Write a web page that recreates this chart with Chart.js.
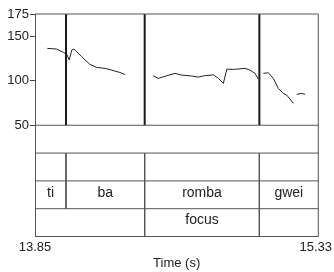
<!DOCTYPE html>
<html>
<head>
<meta charset="utf-8">
<script src="https://cdn.jsdelivr.net/npm/chart.js@4/dist/chart.umd.min.js"></script>
<style>
  html, body { margin: 0; padding: 0; background: #fff; }
  #wrap { width: 334px; height: 272px; }
</style>
</head>
<body>
<div id="wrap"><canvas id="c" width="334" height="272"></canvas></div>
<script>
// time axis (s) and pitch axis (Hz)
var timeRange = [13.85, 15.33];
var pitchTicks = [175, 150, 100, 50];

// pitch track, [time, Hz], one array per voiced stretch
var seg1 = [[13.914,136.4],[13.963,135.6],[13.998,131.9],[14.016,129.7],[14.029,123.3],[14.042,134.5],[14.054,135.6],
  [14.094,127],[14.137,118.4],[14.172,115],[14.216,113.9],[14.251,111.9],[14.294,109.3],[14.320,107.1]];
var seg2 = [[14.468,105.6],[14.494,102.7],[14.538,105.6],[14.581,108.3],[14.616,106.4],[14.669,105.3],[14.703,104.1],
  [14.735,105.6],[14.782,106.6],[14.808,102.7],[14.834,97],[14.852,113.1],[14.886,112.7],[14.947,113.9],[14.973,112],
  [14.999,108.3],[15.017,101.9]];
var seg3 = [[15.043,108.3],[15.069,109],[15.095,102.7],[15.121,91.4],[15.147,85.8],[15.165,83.9],[15.200,74.6]];
var seg4 = [[15.217,84.7],[15.243,85.8],[15.261,84.7]];

// textgrid: interval boundaries and labels per tier (tier 1 is empty)
var wordEdges = [13.85, 14.012, 14.423, 15.022, 15.33];
var wordLabels = ['ti', 'ba', 'romba', 'gwei'];
var focusEdges = [14.423, 15.022];
var focusLabel = 'focus';
var tier2Bounds = [14.012, 14.423, 15.022];

// tiers sit below the pitch panel on the same value scale
var tierEdges = [50, 18.75, -12.5, -43.75, -75];

var FONT = '"Liberation Sans", Arial, sans-serif';

var line = function(pts, color, width){
  return {
    data: pts.map(function(p){ return { x: p[0], y: p[1] }; }),
    borderColor: color, borderWidth: width, pointRadius: 0,
    tension: 0, fill: false, clip: 4, spanGaps: false
  };
};

var datasets = [];

// frame + tier lines
tierEdges.concat([175]).forEach(function(v){
  datasets.push(line([[timeRange[0], v], [timeRange[1], v]], '#555', 1));
});
datasets.push(line([[timeRange[1], -75], [timeRange[1], 175]], '#555', 1));

// boundaries through the pitch panel
wordEdges.slice(1, -1).forEach(function(b){
  datasets.push(line([[b, 50], [b, 175]], '#1a1a1a', 2));
});
// boundaries in tier 2 and 3
tier2Bounds.forEach(function(b){
  datasets.push(line([[b, tierEdges[1]], [b, tierEdges[3]]], '#555', 1));
});
// boundaries in tier 4
focusEdges.forEach(function(b){
  datasets.push(line([[b, tierEdges[3]], [b, tierEdges[4]]], '#555', 1));
});

// pitch, with breaks between the voiced stretches
var pitch = [];
[seg1, seg2, seg3, seg4].forEach(function(s, i){
  if(i) pitch.push([s[0][0] - 0.001, null]);
  pitch = pitch.concat(s);
});
datasets.push(line(pitch, '#222', 1));

// interval labels + time axis text
var labelPlugin = {
  id: 'labels',
  afterDatasetsDraw: function(chart){
    var ctx = chart.ctx, x = chart.scales.x, y = chart.scales.y, area = chart.chartArea;
    ctx.save();
    ctx.fillStyle = '#222';
    ctx.font = '14px ' + FONT;
    ctx.textAlign = 'center';
    ctx.textBaseline = 'middle';

    var ty = (y.getPixelForValue(tierEdges[2]) + y.getPixelForValue(tierEdges[3]))/2 - 2;
    wordLabels.forEach(function(w, i){
      var cx = (x.getPixelForValue(wordEdges[i]) + x.getPixelForValue(wordEdges[i + 1]))/2;
      ctx.fillText(w, cx, ty);
    });
    var fy = (y.getPixelForValue(tierEdges[3]) + y.getPixelForValue(tierEdges[4]))/2 - 2;
    ctx.fillText(focusLabel, (x.getPixelForValue(focusEdges[0]) + x.getPixelForValue(focusEdges[1]))/2, fy);

    // time axis
    ctx.font = '13px ' + FONT;
    var ly = area.bottom + 11;
    timeRange.forEach(function(t){
      var s = t.toFixed(2), w = ctx.measureText(s).width, px = x.getPixelForValue(t);
      if(px + w/2 > chart.width - 2) px = chart.width - 2 - w/2;
      ctx.fillText(s, px, ly);
    });
    ctx.fillText('Time (s)', (area.left + area.right)/2, area.bottom + 27);
    ctx.restore();
  }
};

new Chart(document.getElementById('c'), {
  type: 'line',
  data: { datasets: datasets },
  plugins: [labelPlugin],
  options: {
    responsive: false,
    animation: false,
    layout: { padding: { left: 0, top: 14, right: 15.7, bottom: 35.5 } },
    plugins: { legend: { display: false }, tooltip: { enabled: false } },
    scales: {
      x: { type: 'linear', min: timeRange[0], max: timeRange[1], display: false },
      y: {
        type: 'linear', min: -75, max: 175,
        afterBuildTicks: function(scale){
          scale.ticks = pitchTicks.map(function(v){ return { value: v }; });
        },
        afterFit: function(scale){ scale.width = 35; },
        ticks: { color: '#222', padding: 1, font: { family: FONT, size: 13 } },
        grid: { drawOnChartArea: false, drawTicks: true, tickLength: 5, color: '#444' },
        border: { display: true, color: '#555' }
      }
    }
  }
});
</script>
</body>
</html>
